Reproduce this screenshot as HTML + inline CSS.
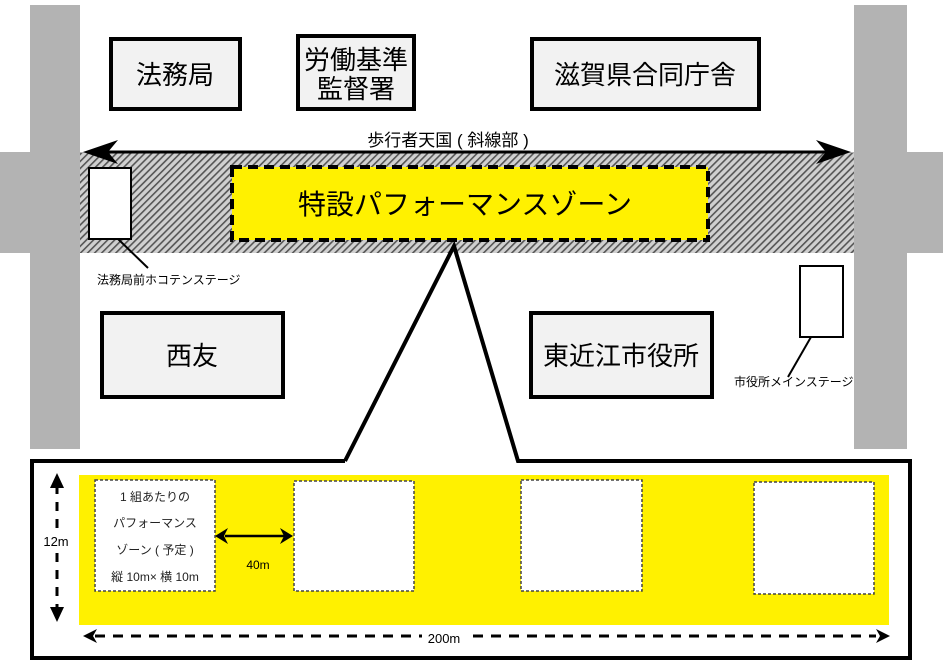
<!DOCTYPE html>
<html><head><meta charset="utf-8"><style>
html,body{margin:0;padding:0;background:#fff;}
svg{display:block;font-family:"Liberation Sans","Noto Sans CJK JP",sans-serif;}
</style></head><body>
<svg width="943" height="669" viewBox="0 0 943 669" xmlns="http://www.w3.org/2000/svg">
<defs>
<pattern id="h" width="5" height="5" patternUnits="userSpaceOnUse" patternTransform="rotate(45)">
<rect width="5" height="5" fill="#d0d0d0"/><rect width="1.6" height="5" fill="#555"/>
</pattern>
</defs>
<rect x="30" y="5" width="50" height="444" fill="#b3b3b3"/>
<rect x="854" y="5" width="53" height="444" fill="#b3b3b3"/>
<rect x="0" y="152" width="943" height="101" fill="#b3b3b3"/>
<rect x="80" y="153" width="774" height="100" fill="url(#h)"/>
<line x1="95" y1="152" x2="835" y2="152" stroke="#000" stroke-width="3"/>
<polygon points="83,152 118,140 108,152 118,164" fill="#000"/>
<polygon points="851,152 816,140 826,152 816,164" fill="#000"/>
<text x="448" y="146" font-size="17" text-anchor="middle">歩行者天国 ( 斜線部 )</text>
<rect x="232" y="167" width="476" height="73" fill="#fff100" stroke="#000" stroke-width="4" stroke-dasharray="10,6"/>
<text x="465" y="214" font-size="28" text-anchor="middle">特設パフォーマンスゾーン</text>
<rect x="89" y="168" width="42" height="71" fill="#fff" stroke="#000" stroke-width="2"/>
<line x1="118" y1="239" x2="148" y2="268" stroke="#000" stroke-width="2"/>
<text x="97" y="284" font-size="12">法務局前ホコテンステージ</text>
<rect x="800" y="266" width="43" height="71" fill="#fff" stroke="#000" stroke-width="2"/>
<line x1="811" y1="337" x2="788" y2="377" stroke="#000" stroke-width="2"/>
<text x="734" y="386" font-size="12">市役所メインステージ</text>
<g fill="#f2f2f2" stroke="#000" stroke-width="4">
<rect x="111" y="39" width="129" height="70"/>
<rect x="298" y="36" width="116" height="73"/>
<rect x="532" y="39" width="227" height="70"/>
<rect x="102" y="313" width="181" height="84"/>
<rect x="531" y="313" width="181" height="84"/>
</g>
<g font-size="26" text-anchor="middle">
<text x="175" y="84">法務局</text>
<text x="356" y="69">労働基準</text>
<text x="356" y="98">監督署</text>
<text x="645" y="84">滋賀県合同庁舎</text>
<text x="192" y="365">西友</text>
<text x="621" y="365">東近江市役所</text>
</g>
<polyline points="345,461 32,461 32,658 910,658 910,461 518,461 454,246 345,461" fill="#fff" stroke="#000" stroke-width="4" stroke-linejoin="miter"/>
<rect x="79" y="475" width="810" height="150" fill="#fff100"/>
<g fill="#fff" stroke="#444" stroke-width="1.5" stroke-dasharray="3,2">
<rect x="95" y="480" width="120" height="111"/>
<rect x="294" y="481" width="120" height="110"/>
<rect x="521" y="480" width="121" height="111"/>
<rect x="754" y="482" width="120" height="112"/>
</g>
<g font-size="12" text-anchor="middle" fill="#222">
<text x="155" y="501">1 組あたりの</text>
<text x="155" y="527">パフォーマンス</text>
<text x="155" y="554">ゾーン ( 予定 )</text>
<text x="155" y="581">縦 10m× 横 10m</text>
</g>
<line x1="225" y1="536" x2="284" y2="536" stroke="#000" stroke-width="2.5"/>
<polygon points="215,536 228,528 224,536 228,544" fill="#000"/>
<polygon points="293,536 280,528 284,536 280,544" fill="#000"/>
<text x="258" y="569" font-size="12" text-anchor="middle">40m</text>
<line x1="57" y1="485" x2="57" y2="612" stroke="#000" stroke-width="3" stroke-dasharray="9,8"/>
<polygon points="57,473 50,488 64,488" fill="#000"/>
<polygon points="57,622 50,607 64,607" fill="#000"/>
<rect x="42" y="532" width="30" height="16" fill="#fff"/>
<text x="56" y="546" font-size="13" text-anchor="middle">12m</text>
<line x1="95" y1="636" x2="876" y2="636" stroke="#000" stroke-width="3" stroke-dasharray="10,8"/>
<polygon points="83,636 97,629 93,636 97,643" fill="#000"/>
<polygon points="890,636 876,629 880,636 876,643" fill="#000"/>
<rect x="422" y="630" width="44" height="18" fill="#fff"/>
<text x="444" y="643" font-size="13" text-anchor="middle">200m</text>
</svg>
</body></html>
